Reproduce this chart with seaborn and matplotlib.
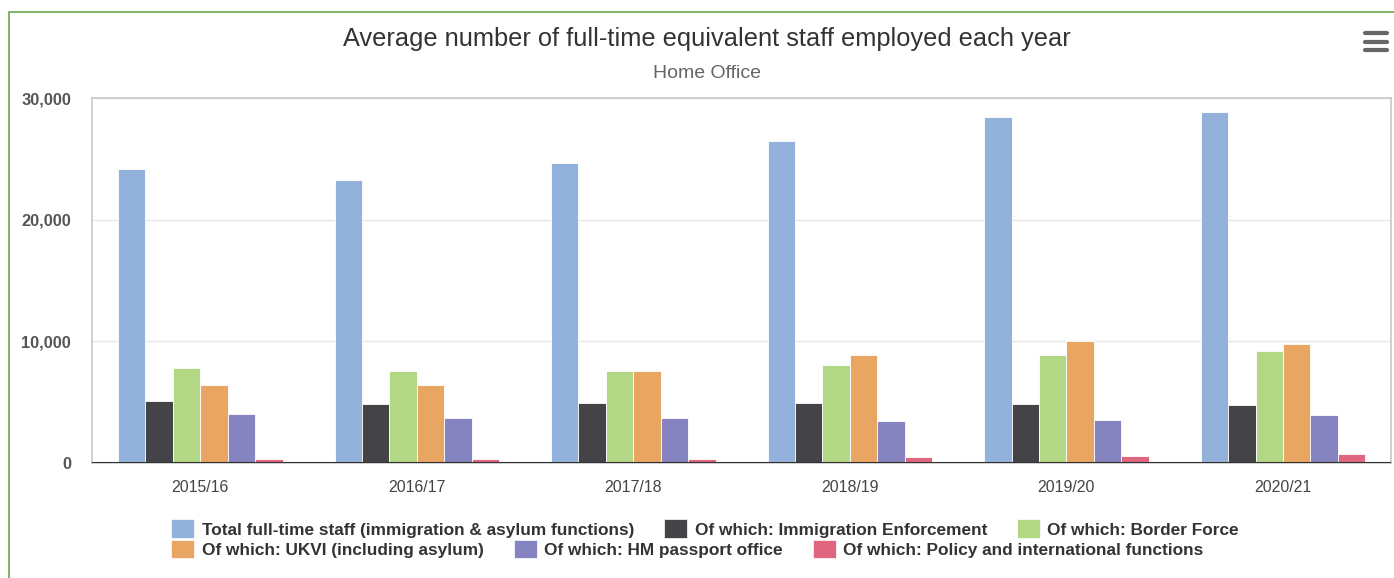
import matplotlib.pyplot as plt
import matplotlib.patches as mpatches
from matplotlib.lines import Line2D
from matplotlib.ticker import FuncFormatter
import seaborn as sns
import pandas as pd

years = ["2015/16", "2016/17", "2017/18", "2018/19", "2019/20", "2020/21"]
series = [
    "Total full-time staff (immigration & asylum functions)",
    "Of which: Immigration Enforcement",
    "Of which: Border Force",
    "Of which: UKVI (including asylum)",
    "Of which: HM passport office",
    "Of which: Policy and international functions",
]
total_staff = [24200, 23250, 24650, 26450, 28450, 28850]
immigration_enforcement = [5100, 4850, 4950, 4950, 4850, 4780]
border_force = [7830, 7600, 7600, 8080, 8900, 9230]
ukvi = [6430, 6430, 7600, 8900, 10050, 9800]
hm_passport = [4040, 3720, 3710, 3460, 3550, 3960]
policy_intl = [330, 330, 330, 500, 580, 740]
colors = ["#92b2dc", "#434348", "#b2d785", "#e8a662", "#8584c1", "#e06680"]

values = [total_staff, immigration_enforcement, border_force, ukvi, hm_passport, policy_intl]
rows = []
for name, vals in zip(series, values):
    for yr, v in zip(years, vals):
        rows.append({"year": yr, "series": name, "staff": v})
df = pd.DataFrame(rows)

sns.set_style("white")
plt.rcParams["font.family"] = ["Liberation Sans", "DejaVu Sans"]

fig = plt.figure(figsize=(13.94, 5.78), dpi=100)
ax = fig.add_axes([0.066, 0.199, 0.932, 0.631])

sns.barplot(data=df, x="year", y="staff", hue="series", palette=colors, saturation=1,
            width=0.76, edgecolor="white", linewidth=0.6, legend=False, ax=ax)

ax.set_ylim(0, 30000)
ax.set_xlim(-0.5, len(years) - 0.5)
ax.set_yticks([0, 10000, 20000, 30000])
ax.yaxis.set_major_formatter(FuncFormatter(lambda v, p: f"{int(v):,}"))
ax.grid(axis="y", color="#e6e6e6", linewidth=1)
ax.set_axisbelow(True)
ax.axhline(0, color="#333333", linewidth=1.5, zorder=5)
ax.set_xlabel("")
ax.set_ylabel("")
for s in ax.spines.values():
    s.set_color("#c8c8c8")
    s.set_linewidth(1.2)

ax.tick_params(axis="y", length=0, pad=15, labelsize=11.8, labelcolor="#555555")
for lbl in ax.get_yticklabels():
    lbl.set_fontweight("bold")
ax.tick_params(axis="x", which="major", length=0, pad=12, labelsize=11.4, labelcolor="#444444")
ax.set_xticks([i - 0.5 for i in range(len(years) + 1)], minor=True)
ax.tick_params(axis="x", which="minor", length=10, width=1, color="#ccd6eb", direction="out")

fig.text(0.507, 0.932, "Average number of full-time equivalent staff employed each year",
         ha="center", va="center", fontsize=18.3, color="#333333")
fig.text(0.507, 0.873, "Home Office", ha="center", va="center", fontsize=14, color="#666666")

# hamburger menu icon
for yy in [0.943, 0.928, 0.913]:
    fig.add_artist(Line2D([0.979, 0.995], [yy, yy], color="#666666", linewidth=3,
                          solid_capstyle="round"))

# outer green frame
fig.add_artist(mpatches.Rectangle((0.0065, -0.01), 1.0, 0.99, fill=False,
                                  edgecolor="#6aa84f", linewidth=1.2,
                                  transform=fig.transFigure))

handles = [mpatches.Patch(facecolor=c, edgecolor="white", linewidth=0.5) for c in colors]
leg_kw = dict(ncol=3, frameon=False, handlelength=1.34, handleheight=1.3,
              handletextpad=0.42, columnspacing=1.75, borderaxespad=0,
              prop={"size": 12.4, "weight": "bold"}, labelcolor="#333333")
fig.legend(handles[:3], series[:3], loc="center left",
           bbox_to_anchor=(0.118, 0.085), **leg_kw)
fig.legend(handles[3:], series[3:], loc="center left",
           bbox_to_anchor=(0.118, 0.05), **leg_kw)

fig.savefig("out.png", dpi=100)
